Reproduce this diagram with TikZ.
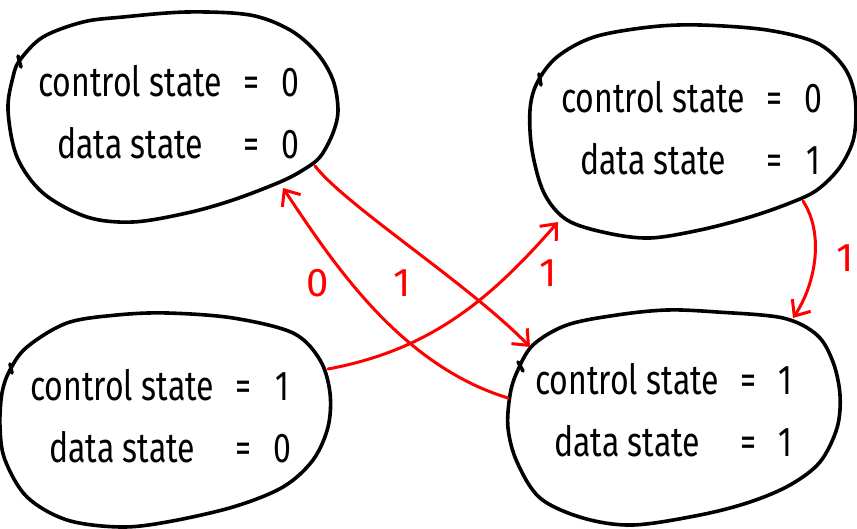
\documentclass[tikz,border=0pt]{standalone}
\usepackage{fontspec}
\setmainfont{Fira Sans}
\usepackage{graphicx}
\usetikzlibrary{arrows.meta}

\tikzset{
  blob/.style={draw=black, line width=3.6pt, line join=round, line cap=round},
  trans/.style={draw=red, line width=3pt, line cap=round, line join=round,
    -{Straight Barb[length=13pt,width=22pt]}},
  statetext/.style={inner sep=0pt, font=\fontsize{32}{48}\selectfont},
  translabel/.style={text=red, inner sep=0pt, font=\fontsize{40}{46}\selectfont}
}

% two lines of a state: control value and data value
\newcommand\statelines[2]{\scalebox{1}[1.3]{%
  \begin{tabular}{@{}c@{\hspace{22pt}}c@{\hspace{22pt}}c@{}}
    control state & = & #1\\
    data state & = & #2
  \end{tabular}}}

\begin{document}
\begin{tikzpicture}[x=1pt, y=-1pt]
\useasboundingbox (0,0) rectangle (857,529);

% outlines of the four states
\draw[blob] plot[smooth cycle, tension=0.55] coordinates {
  (13,77) (20,60) (43,37) (83,22) (123,17) (187,12) (250,15) (290,30) (317,53)
  (333,80) (338,110) (333,133) (320,157) (303,170) (280,182) (233,200)
  (187,213) (133,222) (87,217) (43,193) (17,157) (8,110)};
\draw[blob] (18,56) -- (21,67);

\draw[blob] plot[smooth cycle, tension=0.55] coordinates {
  (537,83) (557,57) (594,37) (650,27) (700,25) (767,30) (817,43) (844,67)
  (855,97) (854,137) (840,167) (817,190) (790,203) (750,217) (700,230)
  (650,238) (607,233) (567,220) (544,193) (532,150) (530,110)};
\draw[blob] (539,74) -- (541,85);

\draw[blob] plot[smooth cycle, tension=0.55] coordinates {
  (27,347) (67,323) (117,315) (167,313) (233,318) (293,333) (320,360)
  (330,393) (328,427) (313,460) (283,487) (233,507) (167,522) (120,527)
  (67,520) (27,497) (5,460) (0,427) (2,393) (10,370)};
\draw[blob] (10,364) -- (12,373);

\draw[blob] plot[smooth cycle, tension=0.55] coordinates {
  (533,345) (567,325) (617,315) (667,310) (717,312) (783,318) (817,335)
  (833,362) (840,395) (837,428) (820,462) (790,485) (750,502) (700,515)
  (633,525) (583,518) (540,498) (517,462) (508,428) (510,395) (517,372)};
\draw[blob] (518,362) -- (523,371);

% state contents
\node[statetext] (s00) at (169,115) {\statelines{0}{0}};
\node[statetext] (s01) at (692,131) {\statelines{0}{1}};
\node[statetext] (s10) at (161,419) {\statelines{1}{0}};
\node[statetext] (s11) at (664,413) {\statelines{1}{1}};

% ends of the transitions on the outlines
\coordinate (s00-out) at (315,166);
\coordinate (s00-in)  at (283,188);
\coordinate (s01-in)  at (558,222);
\coordinate (s01-out) at (803,201);
\coordinate (s10-out) at (328,369);
\coordinate (s11-inA) at (530,347);
\coordinate (s11-inB) at (793,318);
\coordinate (s11-out) at (508,398);

% transitions
\draw[trans] (s00-out) .. controls (345,205) and (470,285) .. (s11-inA);
\draw[trans] (s11-out) .. controls (400,365) and (333,263) .. (s00-in);
\draw[trans] (s10-out) .. controls (430,350) and (490,300) .. (s01-in);
\draw[trans] (s01-out) .. controls (825,235) and (815,285) .. (s11-inB);

% transition labels
\node[translabel] (l0)  at (318,283) {0};
\node[translabel] (l1a) at (402,283) {1};
\node[translabel] (l1b) at (548,273) {1};
\node[translabel] (l1c) at (845,258) {1};
\end{tikzpicture}
\end{document}
